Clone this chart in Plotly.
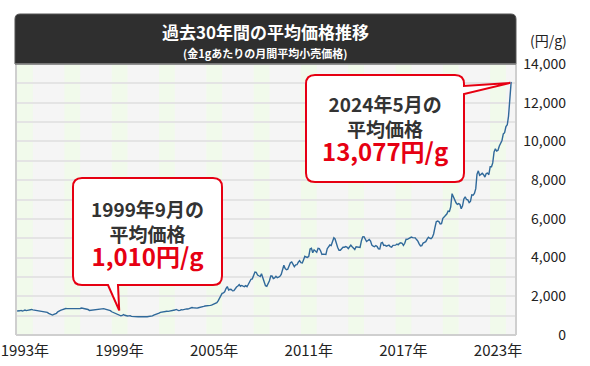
import pandas as pd
import plotly.graph_objects as go

# ---------------- data (monthly average retail gold price, yen/g) ----------------
p1993 = [1240, 1230, 1250, 1270, 1240, 1260, 1290, 1260, 1280, 1310, 1340, 1320]
p1994 = [1300, 1290, 1280, 1270, 1260, 1250, 1240, 1230, 1220, 1200, 1180, 1170]
p1995 = [1120, 1090, 1050, 1030, 1060, 1080, 1120, 1200, 1250, 1270, 1300, 1330]
p1996 = [1350, 1370, 1360, 1360, 1350, 1360, 1350, 1340, 1350, 1370, 1360, 1360]
p1997 = [1370, 1390, 1380, 1370, 1380, 1360, 1320, 1270, 1280, 1300, 1310, 1290]
p1998 = [1300, 1310, 1320, 1330, 1340, 1350, 1360, 1340, 1320, 1280, 1290, 1260]
p1999 = [1200, 1170, 1140, 1100, 1080, 1050, 1020, 990, 1010, 1060, 1020, 990]
p2000 = [980, 990, 1000, 960, 950, 960, 950, 940, 940, 940, 950, 960]
p2001 = [970, 960, 950, 940, 950, 960, 970, 990, 1030, 1050, 1060, 1080]
p2002 = [1130, 1170, 1180, 1200, 1220, 1240, 1230, 1220, 1230, 1250, 1240, 1260]
p2003 = [1290, 1320, 1290, 1260, 1270, 1310, 1300, 1320, 1360, 1350, 1340, 1370]
p2004 = [1400, 1420, 1410, 1390, 1370, 1390, 1410, 1420, 1430, 1460, 1480, 1500]
p2005 = [1500, 1510, 1520, 1530, 1540, 1570, 1590, 1620, 1670, 1760, 1880, 2050]
p2006 = [2150, 2180, 2230, 2400, 2500, 2320, 2360, 2350, 2280, 2290, 2400, 2480]
p2007 = [2530, 2600, 2520, 2560, 2520, 2500, 2550, 2500, 2620, 2760, 2880, 2900]
p2008 = [3080, 3250, 3240, 3100, 3060, 3020, 3160, 2950, 2860, 2550, 2520, 2640]
p2009 = [2800, 3050, 3050, 2920, 2950, 3030, 2960, 2990, 3030, 3130, 3380, 3600]
p2010 = [3430, 3370, 3400, 3560, 3730, 3770, 3600, 3530, 3620, 3630, 3760, 3840]
p2011 = [3740, 3720, 3880, 4070, 4030, 4010, 4060, 4440, 4480, 4250, 4400, 4350]
p2012 = [4270, 4480, 4460, 4340, 4160, 4180, 4150, 4160, 4460, 4570, 4650, 4620]
p2013 = [4880, 5020, 4960, 4710, 4520, 4380, 4380, 4460, 4530, 4530, 4570, 4540]
p2014 = [4460, 4560, 4640, 4560, 4460, 4420, 4560, 4540, 4500, 4520, 4860, 5070]
p2015 = [5080, 4930, 4830, 4880, 4930, 4850, 4640, 4590, 4560, 4620, 4570, 4450]
p2016 = [4440, 4750, 4780, 4630, 4640, 4590, 4600, 4640, 4560, 4540, 4630, 4640]
p2017 = [4640, 4700, 4660, 4730, 4760, 4740, 4630, 4740, 4950, 4940, 4990, 5000]
p2018 = [5060, 5030, 5010, 5020, 4930, 4850, 4710, 4600, 4620, 4750, 4790, 4820]
p2019 = [4950, 5050, 5000, 4980, 5040, 5220, 5550, 5850, 5890, 5860, 5740, 5750]
p2020 = [6030, 6140, 6170, 6250, 6400, 6380, 6620, 7300, 7110, 6980, 6830, 6750]
p2021 = [6790, 6740, 6520, 6670, 7030, 7140, 7000, 6980, 6840, 6900, 7240, 7220]
p2022 = [7310, 7560, 8300, 8480, 8250, 8300, 8360, 8280, 8160, 8340, 8360, 8280]
p2023 = [8690, 8690, 8890, 9460, 9620, 9500, 9540, 9760, 9890, 10050, 10390, 10450]
p2024 = [10770, 10860, 11310, 12530, 13077]

years = list(range(1993, 2025))
year_lists = [p1993, p1994, p1995, p1996, p1997, p1998, p1999, p2000, p2001, p2002,
              p2003, p2004, p2005, p2006, p2007, p2008, p2009, p2010, p2011, p2012,
              p2013, p2014, p2015, p2016, p2017, p2018, p2019, p2020, p2021, p2022,
              p2023, p2024]

tick_years = [1993, 1999, 2005, 2011, 2017, 2023]
tick_labels = [f"{y}年" for y in tick_years]
y_ticks = [0, 2000, 4000, 6000, 8000, 10000, 12000, 14000]
y_tick_labels = [f"{v:,}" for v in y_ticks]

title_text = "過去30年間の平均価格推移"
subtitle_text = "(金1gあたりの月間平均小売価格)"
unit_text = "(円/g)"

low_point = ("1999-09-01", 1010, ["1999年9月の", "平均価格", "1,010円/g"])
last_point = ("2024-05-01", 13077, ["2024年5月の", "平均価格", "13,077円/g"])

# ---------------- build series ----------------
dates, prices = [], []
for y, vals in zip(years, year_lists):
    for m, v in enumerate(vals, start=1):
        dates.append(pd.Timestamp(year=y, month=m, day=1))
        prices.append(v)

# ---------------- layout geometry (pixels) ----------------
W, H = 590, 366
ML, MR, MT, MB = 16, 24, 64, 31
PLOT_R = 516
paper_w = W - ML - MR
paper_h = H - MT - MB
x_dom = (PLOT_R - ML) / paper_w
x_range = [pd.Timestamp("1992-12-06"), pd.Timestamp("2024-08-21")]
y_range = [0, 14000]

def px(xp):
    return (xp - ML) / paper_w

def py(yp):
    return (H - MB - yp) / paper_h

def data_to_pixel(d, v):
    d = pd.Timestamp(d)
    fx = (d - x_range[0]) / (x_range[1] - x_range[0])
    fy = (v - y_range[0]) / (y_range[1] - y_range[0])
    return ML + fx * (PLOT_R - ML), (H - MB) - fy * paper_h

FONT = "Noto Sans CJK JP, Noto Sans, sans-serif"
RED = "#e60012"
DARK = "#333333"

fig = go.Figure()
fig.add_trace(go.Scatter(x=dates, y=prices, mode="lines",
                         line=dict(color="#30699a", width=1.4),
                         hoverinfo="x+y", showlegend=False))

shapes = []
# vertical light green bands, one year wide every three years
for y in years[::3]:
    shapes.append(dict(type="rect", xref="x", yref="y domain",
                       x0=pd.Timestamp(year=y, month=1, day=1),
                       x1=pd.Timestamp(year=y + 1, month=1, day=1),
                       y0=0, y1=1, fillcolor="#f1faeb", line_width=0, layer="below"))

# plot border (left, right, bottom)
for (x0, y0, x1, y1) in [(0, 0, 0, 1), (1, 0, 1, 1), (0, 0, 1, 0)]:
    shapes.append(dict(type="line", xref="x domain", yref="y domain",
                       x0=x0, y0=y0, x1=x1, y1=y1,
                       line=dict(color="#cfcfcf", width=2)))

def rounded_path(L, T, R, B, r, pointer=None, side="bottom", top_only=False):
    cmds = []
    def P(a, b):
        return f"{px(a):.5f},{py(b):.5f}"
    cmds.append(f"M {P(L + r, T)}")
    cmds.append(f"L {P(R - r, T)}")
    cmds.append(f"Q {P(R, T)} {P(R, T + r)}")
    if pointer is not None and side == "right":
        (a0, a1, tip) = pointer
        cmds.append(f"L {P(R, a0)}")
        cmds.append(f"L {P(*tip)}")
        cmds.append(f"L {P(R, a1)}")
    if top_only:
        cmds.append(f"L {P(R, B)}")
        cmds.append(f"L {P(L, B)}")
    else:
        cmds.append(f"L {P(R, B - r)}")
        cmds.append(f"Q {P(R, B)} {P(R - r, B)}")
        if pointer is not None and side == "bottom":
            (a0, a1, tip) = pointer
            cmds.append(f"L {P(a1, B)}")
            cmds.append(f"L {P(*tip)}")
            cmds.append(f"L {P(a0, B)}")
        cmds.append(f"L {P(L + r, B)}")
        cmds.append(f"Q {P(L, B)} {P(L, B - r)}")
    cmds.append(f"L {P(L, T + r)}")
    cmds.append(f"Q {P(L, T)} {P(L + r, T)}")
    cmds.append("Z")
    return " ".join(cmds)

# title bar
shapes.append(dict(type="path", xref="paper", yref="paper",
                   path=rounded_path(15, 14, 516, 64, 5, top_only=True),
                   fillcolor="#2f2f2f", line=dict(color="#555555", width=1)))
shapes.append(dict(type="line", xref="paper", yref="paper",
                   x0=px(15), x1=px(516), y0=py(64), y1=py(64),
                   line=dict(color="#8a8a8a", width=1.5)))

# callout 1 (low point)
lx, ly = data_to_pixel(low_point[0], low_point[1])
shapes.append(dict(type="path", xref="paper", yref="paper",
                   path=rounded_path(73, 178, 222, 285, 9,
                                     pointer=(108, 118, (lx - 3, ly - 5)), side="bottom"),
                   fillcolor="white", line=dict(color=RED, width=2)))
# callout 2 (latest)
hx, hy = data_to_pixel(last_point[0], last_point[1])
shapes.append(dict(type="path", xref="paper", yref="paper",
                   path=rounded_path(306, 75, 464, 182, 9,
                                     pointer=(86, 94, (hx - 1, hy + 1)), side="right"),
                   fillcolor="white", line=dict(color=RED, width=2)))

annotations = []
def txt(x, y, s, size, color, bold=True):
    annotations.append(dict(xref="paper", yref="paper", x=px(x), y=py(y),
                            text=f"<b>{s}</b>" if bold else s, showarrow=False,
                            xanchor="center", yanchor="middle",
                            font=dict(family=FONT, size=size, color=color)))

def callout_text(x, y, lines):
    s = (f"<b>{lines[0]}</b><br><b>{lines[1]}</b><br>"
         f"<span style='font-size:24px;color:{RED}'><b>{lines[2]}</b></span>")
    annotations.append(dict(xref="paper", yref="paper", x=px(x), y=py(y),
                            text=s, showarrow=False, align="center",
                            xanchor="center", yanchor="middle",
                            font=dict(family=FONT, size=19, color=DARK)))

txt(265, 31, title_text, 17, "white")
txt(265, 53, subtitle_text, 11, "white")
txt(548, 40, unit_text, 14, "#222222", bold=False)

callout_text((73 + 222) / 2, 234, low_point[2])
callout_text((306 + 464) / 2, 129, last_point[2])

fig.update_layout(
    width=W, height=H,
    margin=dict(l=ML, r=MR, t=MT, b=MB, pad=0, autoexpand=False),
    paper_bgcolor="white", plot_bgcolor="#f5f5f5",
    shapes=shapes, annotations=annotations,
    font=dict(family=FONT, color="#222222"),
    xaxis=dict(domain=[0, x_dom], type="date", range=x_range, automargin=False,
               tickvals=[pd.Timestamp(year=y, month=7, day=1) for y in tick_years],
               ticktext=tick_labels, showgrid=False, zeroline=False, showline=False,
               ticks="", ticklabelstandoff=5,
               tickfont=dict(size=15, color="#222222"), fixedrange=True),
    yaxis=dict(range=y_range, anchor="free", position=1, side="left", automargin=False,
               tickvals=y_ticks, ticktext=y_tick_labels,
               showgrid=True, gridcolor="#e4e4e4", gridwidth=1.5,
               minor=dict(tickvals=list(range(1000, 14000, 2000)), showgrid=True,
                          gridcolor="#e4e4e4", gridwidth=1.5),
               zeroline=False, showline=False, ticks="",
               tickfont=dict(size=14, color="#222222"), fixedrange=True),
)

fig.write_html("out.html", config={"displayModeBar": False},
               post_script="document.body.style.margin='0';document.body.style.overflow='hidden';")
